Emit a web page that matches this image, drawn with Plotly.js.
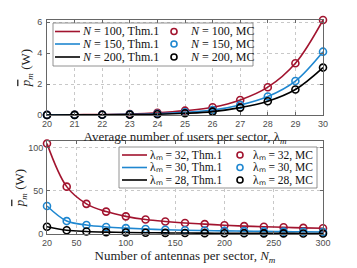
<!DOCTYPE html>
<html><head><meta charset="utf-8">
<script src="https://cdn.plot.ly/plotly-3.0.1.min.js"></script>
<style>html,body{margin:0;padding:0;background:#fff}#chart{width:357px;height:268px}</style>
</head><body><div id="chart"></div>
<script>
// ---- data: top panel ----
const lambdaVals = [20,21,22,23,24,25,26,27,28,29,30];
const pN100 = [0.01,0.02,0.03,0.06,0.14,0.28,0.5,0.97,1.8,3.35,6.15];
const pN150 = [0.005,0.01,0.02,0.04,0.08,0.17,0.32,0.65,1.2,2.2,4.1];
const pN200 = [0.003,0.006,0.012,0.025,0.05,0.11,0.22,0.48,0.89,1.65,3.07];
const topNames = ['100','150','200'];
// ---- data: bottom panel ----
const antennas = [20,40,60,80,100,120,140,160,180,200,220,240,260,280,300];
const pL32 = [105,55,35,26,20.5,16.8,14.5,12.8,11.5,10.2,9.2,8.4,7.8,7.1,6.6];
const pL30 = [32.5,15,10.5,8.2,6.8,5.8,5,4.4,4,3.6,3.3,3,2.8,2.6,2.4];
const pL28 = [8.5,4.3,2.9,2.2,1.8,1.5,1.3,1.1,1,0.9,0.8,0.75,0.7,0.65,0.6];
const botNames = ['32','30','28'];
const topXTicks = [20,21,22,23,24,25,26,27,28,29,30];
const topYTicks = [0,2,4,6];
const botXTicks = [20,50,100,150,200,250,300];
const botYTicks = [0,50,100];

const colors = ['#A2142F','#1F87D0','#000000'];
const W = 357, H = 268, ML = 47, MR = 34, MT = 20, MB = 34;
const PW = W-ML-MR, PH = H-MT-MB;
const px = v => (v-ML)/PW;
const py = v => (H-MB-v)/PH;

const traces = [];
function addSet(xs, ys, i, xa, ya){
  traces.push({x:xs, y:ys, type:'scatter', mode:'lines', line:{color:colors[i], width:1.6, shape:'spline', smoothing:1},
    xaxis:xa, yaxis:ya, showlegend:false, hoverinfo:'skip'});
  traces.push({x:xs, y:ys, type:'scatter', mode:'markers', cliponaxis:false,
    marker:{symbol:'circle-open', size:7, color:colors[i], line:{width:1.6, color:colors[i]}},
    xaxis:xa, yaxis:ya, showlegend:false, hoverinfo:'skip'});
}
[pN100,pN150,pN200].forEach((ys,i)=>addSet(lambdaVals, ys, i, 'x', 'y'));
[pL32,pL30,pL28].forEach((ys,i)=>addSet(antennas, ys, i, 'x2', 'y2'));

const tickFont = {family:'Liberation Sans, Arial, sans-serif', size:9, color:'#4d4d4d'};
const titleFont = {family:'Liberation Serif, Times New Roman, serif', size:13, color:'#222'};
const legFont = {family:'Liberation Serif, Times New Roman, serif', size:12, color:'#111'};
const legFont2 = {family:'Liberation Serif, Times New Roman, serif', size:11.5, color:'#111'};
function ax(extra){
  return Object.assign({showline:true, linecolor:'#666', linewidth:1, mirror:'ticks', ticks:'inside', ticklen:3,
    tickcolor:'#666', tickfont:tickFont, showgrid:true, gridcolor:'#c8c8c8', griddash:'dot', gridwidth:1,
    zeroline:false, tickmode:'array', fixedrange:true}, extra);
}

const shapes = [], annotations = [];
function legend(box, rows, lineX0, lineX1, textX, mkX, mcTextX, labels, font){
  shapes.push({type:'rect', xref:'paper', yref:'paper', x0:px(box[0]), x1:px(box[1]), y0:py(box[3]), y1:py(box[2]),
    fillcolor:'#ffffff', line:{color:'#777', width:0.8}, layer:'above'});
  rows.forEach((ry,i)=>{
    shapes.push({type:'line', xref:'paper', yref:'paper', x0:px(lineX0), x1:px(lineX1), y0:py(ry), y1:py(ry),
      line:{color:colors[i], width:1.6}, layer:'above'});
    shapes.push({type:'circle', xref:'paper', yref:'paper', xsizemode:'pixel', ysizemode:'pixel',
      xanchor:px(mkX), yanchor:py(ry), x0:-3, x1:3, y0:-3, y1:3, line:{color:colors[i], width:1.6}, layer:'above'});
    annotations.push({xref:'paper', yref:'paper', x:px(textX), y:py(ry), xanchor:'left', yanchor:'middle',
      text:labels[i][0], showarrow:false, font:font, borderpad:0});
    annotations.push({xref:'paper', yref:'paper', x:px(mcTextX), y:py(ry), xanchor:'left', yanchor:'middle',
      text:labels[i][1], showarrow:false, font:font, borderpad:0});
  });
}
legend([53,253,23,66],[31.5,44,57],55,80,81,174,189,
  topNames.map(n=>['<i>N</i> = '+n+', Thm.1','<i>N</i> = '+n+', MC']), legFont);
legend([119,317,147,188],[155,167.5,180],122,147,149,240,252,
  botNames.map(n=>['λₘ = '+n+', Thm.1','λₘ = '+n+', MC']), legFont2);

const yTitle = '<i><span style="text-decoration:overline">p</span></i><sub><i>m</i></sub> (W)';
const layout = {
  width:W, height:H, margin:{l:ML, r:MR, t:MT, b:MB}, paper_bgcolor:'#fff', plot_bgcolor:'#fff', showlegend:false,
  xaxis: ax({domain:[0,1], anchor:'y', range:[20,30], tickvals:topXTicks, ticklabelstandoff:0,
    title:{text:'Average number of users per sector, λ<sub><i>m</i></sub>', font:titleFont, standoff:0}}),
  yaxis: ax({domain:[py(115),1], anchor:'x', range:[0,6.15], tickvals:topYTicks, ticklabelstandoff:2,
    title:{text:yTitle, font:titleFont, standoff:3}}),
  xaxis2: ax({domain:[0,1], anchor:'y2', range:[20,300], tickvals:botXTicks, ticklabelstandoff:0,
    title:{text:'Number of antennas per sector, <i>N<sub>m</sub></i>', font:titleFont, standoff:0}}),
  yaxis2: ax({domain:[0,py(141)], anchor:'x2', range:[0,108], tickvals:botYTicks, ticklabelstandoff:1,
    title:{text:yTitle, font:titleFont, standoff:0}}),
  shapes:shapes, annotations:annotations
};
Plotly.newPlot('chart', traces, layout, {staticPlot:true, displayModeBar:false});
</script></body></html>
